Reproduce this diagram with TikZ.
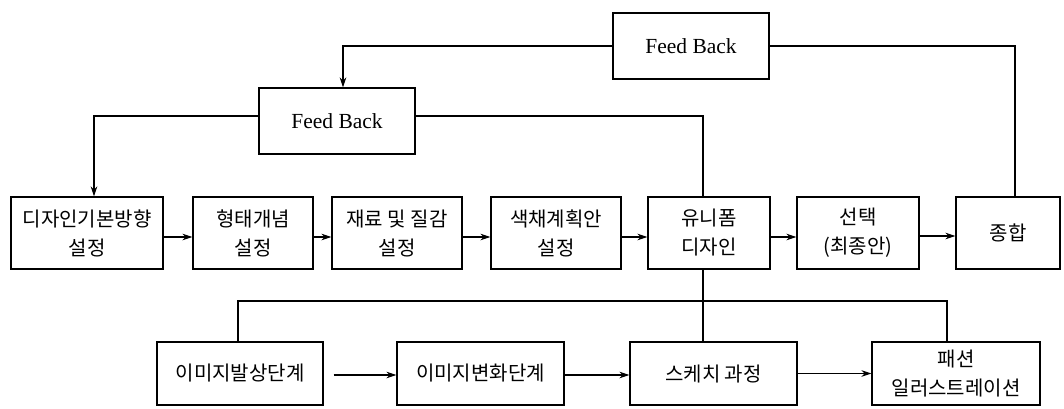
\documentclass[tikz,border=0pt]{standalone}
\usepackage{fontspec}
\newfontfamily\kr{Noto Sans CJK KR}
\newfontfamily\fbfont{Liberation Serif}
\usetikzlibrary{arrows.meta}
\begin{document}
\begin{tikzpicture}[x=1pt,y=-1pt,
  box/.style={draw,line width=1.1pt,inner sep=0pt,align=center,
    font=\kr\fontsize{20}{29}\selectfont},
  fbbox/.style={draw,line width=1.1pt,inner sep=0pt,minimum width=156pt,minimum height=66pt,
    font=\fbfont\fontsize{21.5}{24}\selectfont},
  row/.style={box,minimum height=72pt},
  low/.style={box,minimum height=63pt},
  conn/.style={line width=1.1pt},
  arr/.style={conn,-{Stealth[length=10pt,width=6.5pt]}}]
\useasboundingbox (0,0) rectangle (1064,408);
% feedback boxes
\node[fbbox] (fb1) at (691,46) {Feed Back};
\node[fbbox] (fb2) at (337,121) {Feed Back};
% middle row
\node[row,minimum width=152pt] (b1) at (87,233) {디자인기본방향\\설정};
\node[row,minimum width=120pt] (b2) at (253,233) {형태개념\\설정};
\node[row,minimum width=130pt] (b3) at (397,233) {재료 및 질감\\설정};
\node[row,minimum width=130pt] (b4) at (556,233) {색채계획안\\설정};
\node[row,minimum width=122pt] (b5) at (709,233) {유니폼\\디자인};
\node[row,minimum width=122pt] (b6) at (858,233) {선택\\(최종안)};
\node[row,minimum width=104pt] (b7) at (1008,233) {종합};
% bottom row
\node[low,minimum width=166pt] (c1) at (240,373.5) {이미지발상단계};
\node[low,minimum width=167pt] (c2) at (480.5,373.5) {이미지변화단계};
\node[low,minimum width=167pt] (c3) at (713.5,373.5) {스케치 과정};
\node[low,minimum width=168pt] (c4) at (956,373.5) {패션\\일러스트레이션};
% feedback connectors
\draw[arr] (fb1.west) -| ([xshift=6pt]fb2.north);
\draw[conn] (fb1.east) -| ([xshift=7pt]b7.north);
\draw[arr] ([yshift=5pt]fb2.west) -| ([xshift=7pt]b1.north);
\draw[conn] ([yshift=5pt]fb2.east) -| ([xshift=-6pt]b5.north);
% middle row arrows
\draw[arr] ([yshift=-4pt]b1.east) -- ([yshift=-4pt]b2.west);
\draw[arr] ([yshift=-4pt]b2.east) -- ([yshift=-4pt]b3.west);
\draw[arr] ([yshift=-4pt]b3.east) -- ([yshift=-4pt]b4.west);
\draw[arr] ([yshift=-4pt]b4.east) -- ([yshift=-4pt]b5.west);
\draw[arr] ([yshift=-4pt]b5.east) -- ([yshift=-4pt]b6.west);
\draw[arr] ([yshift=-3pt]b6.east) -- ([yshift=-3pt]b7.west);
% link to bottom row
\draw[conn] ([xshift=-6pt]b5.south) -- ([xshift=-6pt]b5.south |- c3.north);
\coordinate (hl) at (500,301);
\draw[conn] ([xshift=-2pt]c1.north) |- (hl) -| ([xshift=-9pt]c4.north);
% bottom row arrows
\draw[arr] ([xshift=10pt,yshift=-1.5pt]c1.east) -- ([yshift=-1.5pt]c2.west);
\draw[arr] ([yshift=-1.5pt]c2.east) -- ([yshift=-1.5pt]c3.west);
\draw[arr] (c3.east) -- (c4.west);
\end{tikzpicture}
\end{document}
